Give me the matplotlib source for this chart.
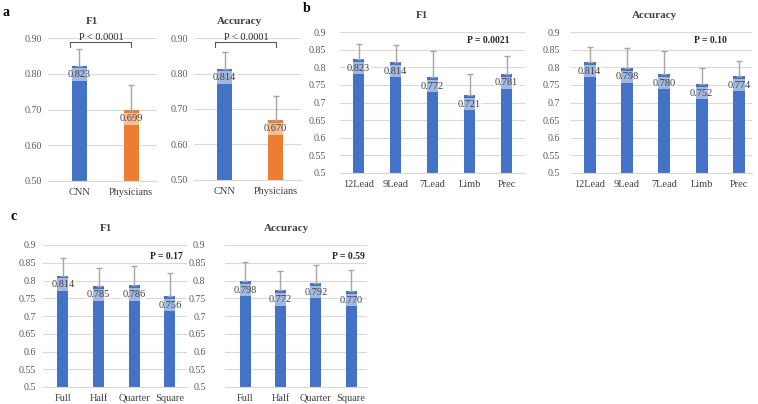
import matplotlib as mpl
mpl.use('agg')
import matplotlib.pyplot as plt
from matplotlib.ticker import FuncFormatter

plt.rc('font', family='Liberation Serif')

W, H = 758, 404
BLUE = '#4472C4'
ORANGE = '#ED7D31'

# panel a: CNN vs physicians
a_cats = ['CNN', 'Physicians']
a_f1 = [0.823, 0.699]
a_f1_err = [0.046, 0.069]
a_acc = [0.814, 0.670]
a_acc_err = [0.046, 0.068]
a_p = 'P < 0.0001'

# panel b: lead subsets
b_cats = ['12Lead', '9Lead', '7Lead', 'Limb', 'Prec']
b_f1 = [0.823, 0.814, 0.772, 0.721, 0.781]
b_f1_err = [0.043, 0.050, 0.074, 0.061, 0.050]
b_acc = [0.814, 0.798, 0.780, 0.752, 0.774]
b_acc_err = [0.043, 0.056, 0.066, 0.046, 0.044]
b_f1_p = 'P = 0.0021'
b_acc_p = 'P = 0.10'

# panel c: input length
c_cats = ['Full', 'Half', 'Quarter', 'Square']
c_f1 = [0.814, 0.785, 0.786, 0.756]
c_f1_err = [0.050, 0.049, 0.055, 0.066]
c_acc = [0.798, 0.772, 0.792, 0.770]
c_acc_err = [0.054, 0.054, 0.051, 0.059]
c_f1_p = 'P = 0.17'
c_acc_p = 'P = 0.59'

ticks_a = [0.5, 0.6, 0.7, 0.8, 0.9]
ticks_bc = [0.5, 0.55, 0.6, 0.65, 0.7, 0.75, 0.8, 0.85, 0.9]


def px_axes(fig, x0, x1, y0, y1):
    return fig.add_axes([x0 / W, 1 - y1 / H, (x1 - x0) / W, (y1 - y0) / H])


def draw_panel(ax, cats, vals, errs, colors, yticks, fmt, xlim, width, ypad):
    x = list(range(len(cats)))
    ax.bar(x, vals, width, color=colors, zorder=2)
    ax.errorbar(x, vals, yerr=[[0] * len(x), errs], fmt='none', ecolor='#A6A6A6',
                elinewidth=1, capsize=2.5, capthick=1, zorder=3)
    for xi, v in zip(x, vals):
        ax.annotate('%.3f' % v, xy=(xi, v), xytext=(0, -9), textcoords='offset pixels',
                    ha='center', va='center', fontsize=7.5, color='#404040', zorder=4,
                    bbox=dict(boxstyle='square,pad=0.15', fc='white', ec='none', alpha=0.5))
    ax.set_ylim(0.5, 0.9)
    ax.set_yticks(yticks)
    ax.yaxis.set_major_formatter(FuncFormatter(lambda v, p: fmt.format(v)))
    ax.set_xticks(x, cats)
    ax.set_xlim(xlim)
    ax.grid(axis='y', color='#D9D9D9', lw=0.8)
    ax.set_axisbelow(True)
    for s in ['top', 'right', 'left']:
        ax.spines[s].set_visible(False)
    ax.spines['bottom'].set_color('#D9D9D9')
    ax.tick_params(axis='both', length=0, colors='#595959', labelsize=7.2)
    ax.tick_params(axis='x', pad=5, labelsize=7.5, colors='#404040')
    ax.tick_params(axis='y', pad=ypad)


fig = plt.figure(figsize=(W / 100, H / 100), dpi=100)

ax1 = px_axes(fig, 48, 157, 38, 181)
draw_panel(ax1, a_cats, a_f1, a_f1_err, [BLUE, ORANGE], ticks_a, '{:.2f}', (-0.6, 1.5), 0.29, 4)
ax2 = px_axes(fig, 194, 301, 38, 180)
draw_panel(ax2, a_cats, a_acc, a_acc_err, [BLUE, ORANGE], ticks_a, '{:.2f}', (-0.6, 1.5), 0.29, 4)
for ax in (ax1, ax2):
    ax.plot([-0.18, -0.18, 1.0, 1.0], [0.875, 0.889, 0.889, 0.875], color='#595959',
            lw=0.8, clip_on=False)
    ax.text(0.42, 0.9, a_p, ha='center', va='center', fontsize=7.5, color='#262626')

ax3 = px_axes(fig, 340, 525, 32, 173)
draw_panel(ax3, b_cats, b_f1, b_f1_err, BLUE, ticks_bc, '{:g}', (-0.5, 4.5), 0.32, 10)
ax3.text(3.5, 0.877, b_f1_p, ha='center', va='center', fontsize=7, fontweight='bold', color='#262626')
ax4 = px_axes(fig, 571, 752, 32, 173)
draw_panel(ax4, b_cats, b_acc, b_acc_err, BLUE, ticks_bc, '{:g}', (-0.5, 4.35), 0.32, 8)
ax4.text(3.23, 0.877, b_acc_p, ha='center', va='center', fontsize=7, fontweight='bold', color='#262626')

ax5 = px_axes(fig, 43, 187, 245, 387)
draw_panel(ax5, c_cats, c_f1, c_f1_err, BLUE, ticks_bc, '{:g}', (-0.56, 3.48), 0.31, 5)
ax5.text(2.9, 0.869, c_f1_p, ha='center', va='center', fontsize=7, fontweight='bold', color='#262626')
ax6 = px_axes(fig, 225, 367, 245, 387)
draw_panel(ax6, c_cats, c_acc, c_acc_err, BLUE, ticks_bc, '{:g}', (-0.57, 3.45), 0.31, 14)
ax6.text(2.92, 0.869, c_acc_p, ha='center', va='center', fontsize=7, fontweight='bold', color='#262626')

# sub-chart titles
for tx, ty, t in [(92, 21, 'F1'), (240, 21, 'Accuracy'), (422, 15, 'F1'),
                  (655, 15, 'Accuracy'), (106, 229, 'F1'), (287, 229, 'Accuracy')]:
    fig.text(tx / W, 1 - ty / H, t, ha='center', va='center', fontsize=8,
             fontweight='bold', color='#404040')

# panel letters
for tx, ty, t in [(6, 13, 'a'), (307, 9, 'b'), (14, 216, 'c')]:
    fig.text(tx / W, 1 - ty / H, t, ha='center', va='center', fontsize=10,
             fontweight='bold', color='black')

plt.savefig('out.png', dpi=100)
